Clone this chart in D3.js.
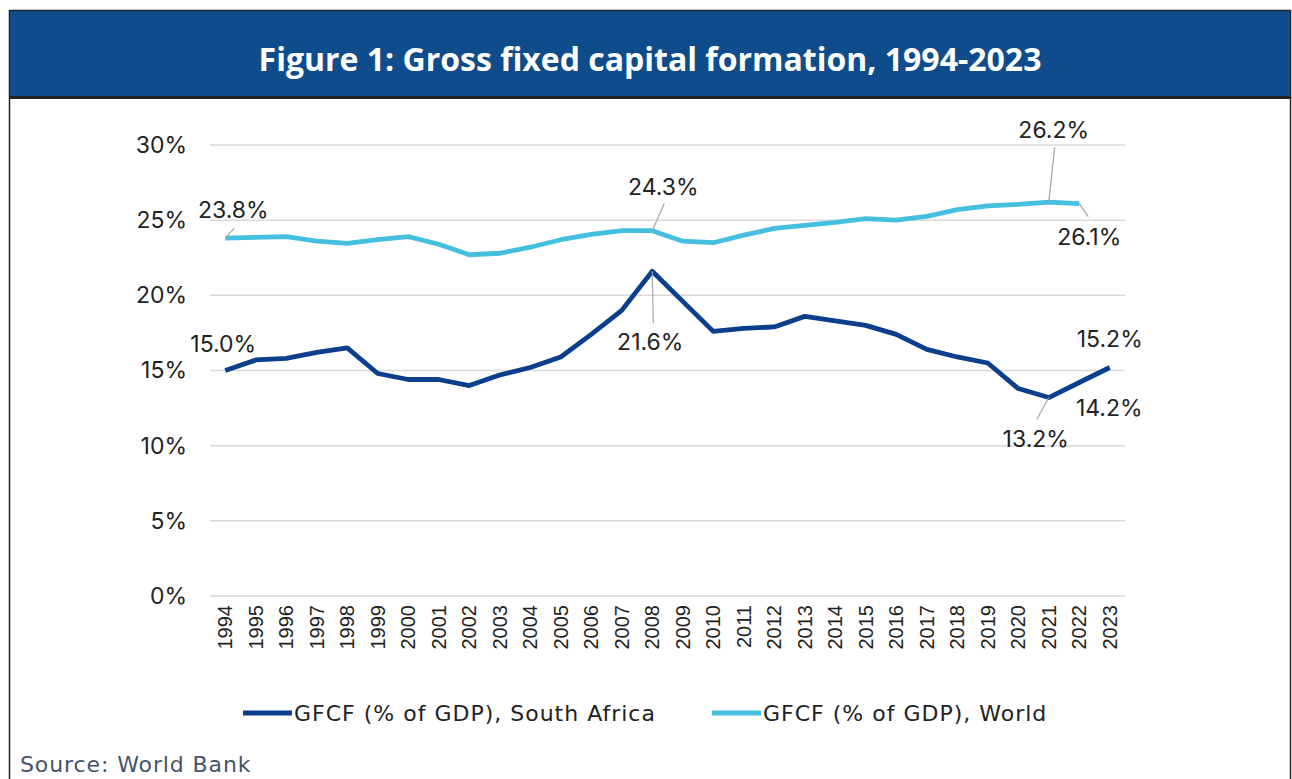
<!DOCTYPE html>
<html>
<head>
<meta charset="utf-8">
<script src="https://cdn.jsdelivr.net/npm/d3@7"></script>
<style>
  body { margin: 0; background: #fff; }
  svg { display: block; }
</style>
</head>
<body>
<svg id="chart" width="1292" height="779"></svg>
<script>
const years = d3.range(1994, 2024).map(String);
const southAfrica = [15.0, 15.7, 15.8, 16.2, 16.5, 14.8, 14.4, 14.4, 14.0, 14.7,
  15.2, 15.9, 17.4, 19.0, 21.6, 19.6, 17.6, 17.8, 17.9, 18.6,
  18.3, 18.0, 17.4, 16.4, 15.9, 15.5, 13.8, 13.2, 14.2, 15.2];
const world = [23.8, 23.85, 23.9, 23.6, 23.45, 23.7, 23.9, 23.4, 22.7, 22.8,
  23.2, 23.7, 24.05, 24.3, 24.3, 23.6, 23.5, 24.0, 24.45, 24.65,
  24.85, 25.1, 25.0, 25.25, 25.7, 25.95, 26.05, 26.2, 26.1, null];
const yTicks = [0, 5, 10, 15, 20, 25, 30];

const seriesList = [
  { name: "GFCF (% of GDP), South Africa", values: southAfrica, color: "#0b3f8c" },
  { name: "GFCF (% of GDP), World", values: world, color: "#45bfe0" }
];

// labelled points: series index, year, text offset from the point, leader line end
const annotations = [
  { s: 1, year: "1994", dx: 8, dy: -20, lead: [9, -10] },
  { s: 1, year: "2008", dx: 11, dy: -36, lead: [12, -27] },
  { s: 1, year: "2021", dx: 5, dy: -64, lead: [6, -55] },
  { s: 1, year: "2022", dx: 10, dy: 41, lead: [9, 13] },
  { s: 0, year: "1994", dx: -2, dy: -19, lead: null },
  { s: 0, year: "2008", dx: -2, dy: 79, lead: [1, 52] },
  { s: 0, year: "2023", dx: 0, dy: -20, lead: null },
  { s: 0, year: "2022", dx: 30, dy: 33, lead: null },
  { s: 0, year: "2021", dx: -13, dy: 49, lead: [-12, 22] }
];

const svg = d3.select("#chart");

// frame and title bar
svg.append("rect").attr("x", 9.5).attr("y", 10.5).attr("width", 1281).attr("height", 800)
  .attr("fill", "#fff").attr("stroke", "#222").attr("stroke-width", 1.5);
svg.append("rect").attr("x", 10).attr("y", 11).attr("width", 1280).attr("height", 86)
  .attr("fill", "#0f4c8c");
svg.append("rect").attr("x", 10).attr("y", 96).attr("width", 1280).attr("height", 3)
  .attr("fill", "#222");
svg.append("text").attr("x", 650).attr("y", 71).attr("text-anchor", "middle")
  .attr("fill", "#fff").style("font", "bold 32px 'Open Sans', sans-serif")
  .text("Figure 1: Gross fixed capital formation, 1994-2023");

const x = d3.scaleBand().domain(years).range([210, 1125]);
const y = d3.scaleLinear().domain([0, 30]).range([596, 145]);
const cx = d => x(d) + x.bandwidth() / 2;

// gridlines
svg.append("g").selectAll("line").data(yTicks).join("line")
  .attr("x1", 210).attr("x2", 1125)
  .attr("y1", d => y(d)).attr("y2", d => y(d))
  .attr("stroke", "#d9d9d9").attr("stroke-width", 1.5);

// y axis labels
const yAxis = svg.append("g").attr("transform", "translate(197,0)")
  .call(d3.axisLeft(y).tickValues(yTicks).tickFormat(d => d + "%").tickSize(0).tickPadding(10));
yAxis.select(".domain").remove();
yAxis.selectAll("text").attr("fill", "#222").style("font", "23px Inter, sans-serif");

// x axis labels
const xAxis = svg.append("g").attr("transform", "translate(0,600)")
  .call(d3.axisBottom(x).tickSize(0).tickPadding(0));
xAxis.select(".domain").remove();
xAxis.selectAll("text")
  .attr("transform", "rotate(-90)").attr("text-anchor", "end")
  .attr("x", -5).attr("y", 0).attr("dy", "0.35em")
  .attr("fill", "#222").style("font", "20px 'Liberation Sans', Arial, sans-serif");

// lines
const line = d3.line()
  .defined(d => d.v != null)
  .x(d => cx(d.year)).y(d => y(d.v));
seriesList.forEach(s => {
  svg.append("path")
    .datum(years.map((yr, i) => ({ year: yr, v: s.values[i] })))
    .attr("d", line).attr("fill", "none")
    .attr("stroke", s.color).attr("stroke-width", 4.8)
    .attr("stroke-linejoin", "round");
});

// annotations
const ann = svg.append("g");
annotations.forEach(a => {
  const v = seriesList[a.s].values[years.indexOf(a.year)];
  const px = cx(a.year), py = y(v);
  if (a.lead) {
    ann.append("line").attr("x1", px).attr("y1", py)
      .attr("x2", px + a.lead[0]).attr("y2", py + a.lead[1])
      .attr("stroke", "#a6a6a6").attr("stroke-width", 1.2);
  }
  ann.append("text").attr("x", px + a.dx).attr("y", py + a.dy)
    .attr("text-anchor", "middle")
    .attr("fill", "#222").style("font", "23px Inter, sans-serif")
    .text(v.toFixed(1) + "%");
});

// legend
const legendX = [243, 712];
const legend = svg.append("g").selectAll("g").data(seriesList).join("g")
  .attr("transform", (d, i) => `translate(${legendX[i]},713)`);
legend.append("line").attr("x1", 0).attr("x2", 49)
  .attr("stroke", d => d.color).attr("stroke-width", 4.8);
legend.append("text").attr("x", 51).attr("dy", "0.35em")
  .attr("fill", "#222").style("font", "22px 'DejaVu Sans', sans-serif")
  .style("letter-spacing", "1px")
  .text(d => d.name);

// source
svg.append("text").attr("x", 20).attr("y", 772)
  .attr("fill", "#44546a").style("font", "22px 'DejaVu Sans', sans-serif")
  .style("letter-spacing", "0.9px")
  .text("Source: World Bank");
</script>
</body>
</html>
